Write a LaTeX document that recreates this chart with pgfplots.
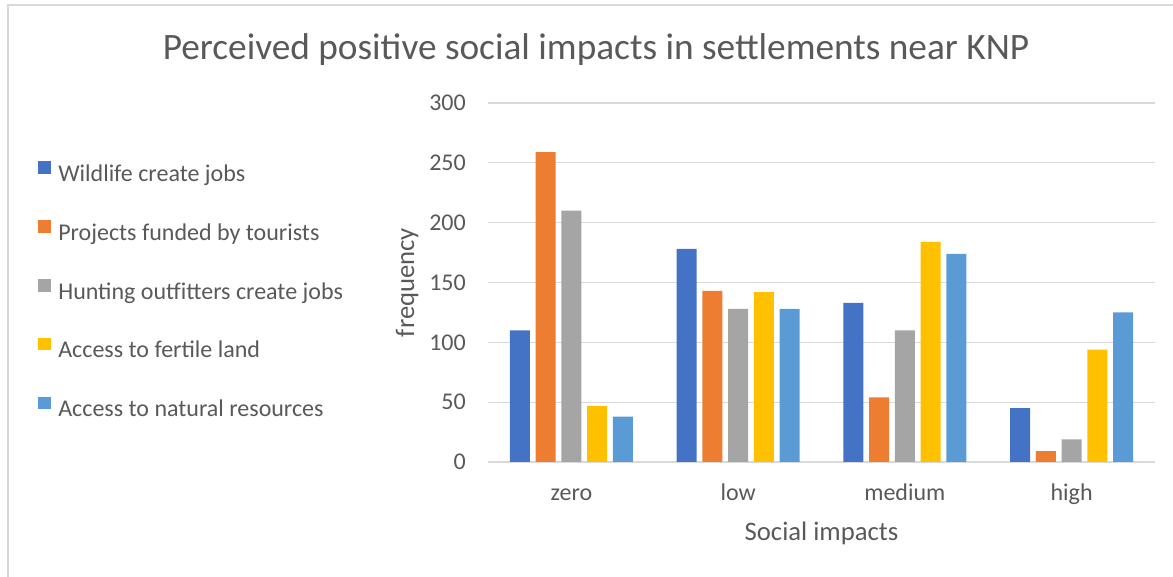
\documentclass[border=0pt]{standalone}
\usepackage{fontspec}
\setmainfont{Carlito}
\usepackage{pgfplots}
\pgfplotsset{compat=1.18}
\definecolor{cA}{HTML}{4472C4}
\definecolor{cB}{HTML}{ED7D31}
\definecolor{cC}{HTML}{A5A5A5}
\definecolor{cD}{HTML}{FFC000}
\definecolor{cE}{HTML}{5B9BD5}
\definecolor{txt}{HTML}{595959}
\definecolor{gridc}{HTML}{D9D9D9}
\begin{document}
\begin{tikzpicture}
\path[use as bounding box] (0pt,0pt) rectangle (1173pt,577pt);
\draw[gridc, line width=2pt] (1173pt,572pt) -- (8pt,572pt) -- (8pt,0pt);
\node[anchor=base, text=txt, inner sep=0pt, font=\fontsize{37.3}{40}\selectfont] at (596pt,517pt) {Perceived positive social impacts in settlements near KNP};
\begin{axis}[
  at={(488pt,115pt)}, anchor=south west,
  scale only axis, width=667pt, height=359pt,
  ybar=5.7pt, bar width=20pt,
  xmin=-0.5, xmax=3.5, ymin=0, ymax=300,
  enlargelimits=false,
  xtick={0,1,2,3}, xticklabels={zero,low,medium,high},
  ytick={0,50,100,150,200,250,300},
  ymajorgrids, major grid style={draw=gridc, line width=1.3pt},
  axis lines*=left,
  y axis line style={draw=none},
  x axis line style={draw=gridc, line width=1.3pt},
  major tick length=0pt,
  /pgf/number format/assume math mode=true,
  tick label style={font=\fontsize{24}{28}\selectfont, text=txt},
  yticklabel style={anchor=east, inner sep=0pt, xshift=-22pt},
  xticklabel style={anchor=base, inner sep=0pt, yshift=-39pt},
  xlabel={Social impacts}, ylabel={frequency},
  every axis x label/.style={at={(axis description cs:0.5,-0.2173)}, anchor=base, inner sep=0pt, font=\fontsize{26.7}{30}\selectfont, text=txt},
  every axis y label/.style={at={(axis description cs:-0.1214,0.5)}, rotate=90, anchor=center, inner sep=0pt, font=\fontsize{26.7}{30}\selectfont, text=txt},
  legend style={at={(axis description cs:-0.6745,0.838)}, anchor=north west, draw=none, fill=none, inner sep=0pt, row sep=34pt,
    font=\fontsize{24}{28}\selectfont, text=txt,
    nodes={inner sep=0pt, text height=17pt, text depth=5pt},
    /tikz/every odd column/.append style={column sep=7.6pt}},
  legend cell align=left,
  legend image code/.code={\fill[#1] (0pt,1.5pt) rectangle (12.4pt,13.9pt);},
]
\addplot[fill=cA, draw=none] coordinates {(0,110) (1,178) (2,133) (3,45)};
\addplot[fill=cB, draw=none] coordinates {(0,259) (1,143) (2,54) (3,9)};
\addplot[fill=cC, draw=none] coordinates {(0,210) (1,128) (2,110) (3,19)};
\addplot[fill=cD, draw=none] coordinates {(0,47) (1,142) (2,184) (3,94)};
\addplot[fill=cE, draw=none] coordinates {(0,38) (1,128) (2,174) (3,125)};
\legend{Wildlife create jobs, Projects funded by tourists, Hunting outfitters create jobs, Access to fertile land, Access to natural resources}
\end{axis}
\end{tikzpicture}
\end{document}
